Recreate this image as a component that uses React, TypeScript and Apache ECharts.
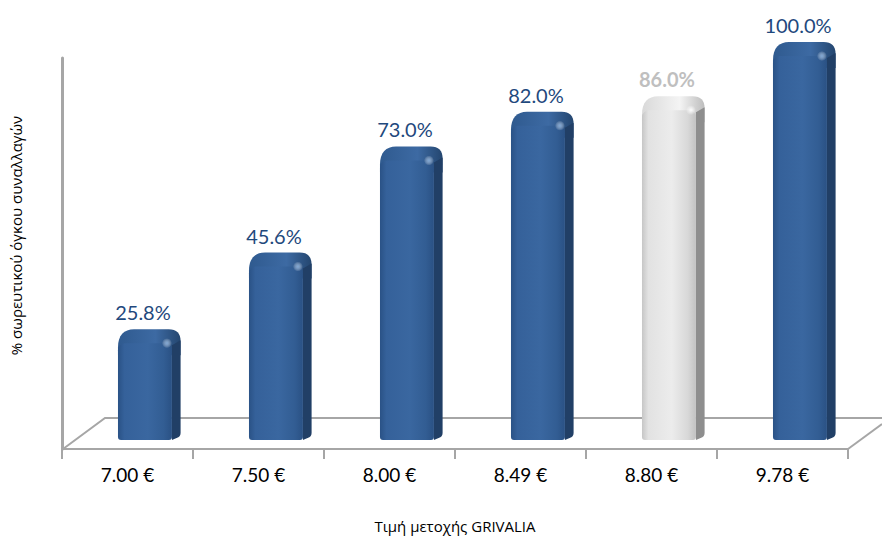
import React, { useEffect, useRef } from "react";
import * as echarts from "echarts";

const categories = ["7.00 €", "7.50 €", "8.00 €", "8.49 €", "8.80 €", "9.78 €"];
const cumulativeShare = [25.8, 45.6, 73.0, 82.0, 86.0, 100.0];
const highlightCategory = "8.80 €";
const xTitle = "Τιμή μετοχής GRIVALIA";
const yTitle = "% σωρευτικού όγκου συναλλαγών";

const FONT = "Lato, 'Open Sans', sans-serif";
const TITLE_FONT = "'Open Sans', sans-serif";
const AXIS_GRAY = "#a6a6a6";

export default function App() {
  const ref = useRef<HTMLDivElement>(null);

  useEffect(() => {
    if (!ref.current) return;
    const chart = echarts.init(ref.current, undefined, { renderer: "svg" });

    const renderItem = (params: any, api: any) => {
      const i = api.value(0);
      const v = api.value(1);
      const topPt = api.coord([i, v]);
      const basePt = api.coord([i, 0]);
      const bw = api.size([1, 0])[0];
      const c = topPt[0];
      const t = topPt[1];
      const bottom = basePt[1] + 11;
      const grey = categories[i] === highlightCategory;

      const fl = c - bw * 0.233;
      const fr = c + bw * 0.179;
      const sr = c + bw * 0.245;
      const capH = 14;

      const pal = grey
        ? {
            side: "#8e8e8e",
            capA: "#d9d9d9",
            capB: "#f4f4f4",
            capC: "#bdbdbd",
            f0: "#c6c6c6",
            f1: "#e2e2e2",
            f2: "#ececec",
            f3: "#d8d8d8",
            f4: "#c2c2c2",
            spot: "rgba(255,255,255,0.95)",
            label: "#bfbfbf",
          }
        : {
            side: "#213f66",
            capA: "#2f5a8f",
            capB: "#3d6aa3",
            capC: "#24466f",
            f0: "#2a5286",
            f1: "#35619a",
            f2: "#3a67a0",
            f3: "#325d93",
            f4: "#2a5184",
            spot: "rgba(140,180,225,0.85)",
            label: "#1f497d",
          };

      const capPath =
        `M${fl},${t + 26} L${fl},${t + capH + 4} ` +
        `C${fl},${t + 6} ${fl + 6},${t} ${fl + 16},${t} ` +
        `L${sr - 12},${t} C${sr - 4},${t} ${sr},${t + 4} ${sr},${t + 12} ` +
        `L${sr},${t + 26} Z`;
      const sidePath =
        `M${fr},${t + capH + 2} L${sr},${t + 11} L${sr},${bottom - 7} ` +
        `Q${sr},${bottom - 3} ${sr - 4},${bottom - 2} L${fr},${bottom} Z`;

      const labelX = (fl + fr) / 2 - 2;

      return {
        type: "group",
        children: [
          {
            type: "path",
            shape: { pathData: capPath },
            style: {
              fill: new echarts.graphic.LinearGradient(0, 0, 1, 0, [
                { offset: 0, color: pal.capA },
                { offset: 0.6, color: pal.capB },
                { offset: 1, color: pal.capC },
              ]),
            },
          },
          {
            type: "path",
            shape: { pathData: sidePath },
            style: { fill: pal.side },
          },
          {
            type: "rect",
            shape: { x: fl, y: t + capH, width: fr - fl, height: bottom - t - capH, r: [7, 7, 3, 3] },
            style: {
              fill: new echarts.graphic.LinearGradient(0, 0, 1, 0, [
                { offset: 0, color: pal.f0 },
                { offset: 0.12, color: pal.f1 },
                { offset: 0.55, color: pal.f2 },
                { offset: 0.85, color: pal.f3 },
                { offset: 1, color: pal.f4 },
              ]),
            },
          },
          {
            type: "circle",
            shape: { cx: fr - 5, cy: t + capH, r: 5 },
            style: {
              fill: new echarts.graphic.RadialGradient(0.5, 0.5, 0.5, [
                { offset: 0, color: pal.spot },
                { offset: 1, color: "rgba(255,255,255,0)" },
              ]),
            },
          },
          {
            type: "text",
            x: labelX,
            y: t - 17,
            style: {
              text: v.toFixed(1) + "%",
              fill: pal.label,
              font: (grey ? "bold " : "") + "20px " + FONT,
              align: "center",
              verticalAlign: "middle",
            },
          },
        ],
      };
    };

    chart.setOption({
      animation: false,
      backgroundColor: "#ffffff",
      grid: [
        { left: 83, right: 13, top: 42, bottom: 108, outerBoundsMode: "none", containLabel: false },
        { left: 62, right: 34, top: 58, bottom: 88, outerBoundsMode: "none", containLabel: false },
      ],
      xAxis: [
        {
          type: "category",
          gridIndex: 0,
          data: categories,
          show: false,
        },
        {
          type: "category",
          gridIndex: 1,
          data: categories,
          boundaryGap: true,
          axisLine: { show: true, lineStyle: { color: AXIS_GRAY, width: 2 } },
          axisTick: { show: true, length: 10, lineStyle: { color: AXIS_GRAY, width: 2 } },
          axisLabel: { color: "#000000", fontSize: 19, fontFamily: FONT, margin: 16 },
          name: xTitle,
          nameLocation: "middle",
          nameGap: 69,
          nameTextStyle: { color: "#000000", fontSize: 15, fontFamily: TITLE_FONT },
        },
      ],
      yAxis: [
        {
          type: "value",
          gridIndex: 0,
          min: 0,
          max: 100,
          axisLine: { show: false },
          axisTick: { show: false },
          axisLabel: { show: false },
          splitLine: { show: false },
          name: yTitle,
          nameLocation: "middle",
          nameRotate: 90,
          nameGap: 60,
          nameTextStyle: { color: "#000000", fontSize: 15, fontFamily: TITLE_FONT },
        },
        {
          type: "value",
          gridIndex: 1,
          min: 0,
          max: 100,
          axisLine: { show: true, lineStyle: { color: AXIS_GRAY, width: 3 } },
          axisTick: { show: false },
          axisLabel: { show: false },
          splitLine: { show: false },
        },
      ],
      graphic: {
        elements: [
          {
            type: "polyline",
            z: 1,
            shape: { points: [[63, 449], [105, 418], [882, 418]] },
            style: { stroke: AXIS_GRAY, lineWidth: 2, fill: "none" },
          },
          {
            type: "line",
            z: 1,
            shape: { x1: 848, y1: 449, x2: 882, y2: 424 },
            style: { stroke: AXIS_GRAY, lineWidth: 2 },
          },
        ],
      },
      series: [
        {
          type: "custom",
          xAxisIndex: 0,
          yAxisIndex: 0,
          z: 10,
          renderItem,
          data: cumulativeShare.map((v, i) => [i, v]),
        },
      ],
    });

    return () => chart.dispose();
  }, []);

  return <div ref={ref} style={{ width: 882, height: 537, position: "absolute", left: 0, top: 0 }} />;
}
